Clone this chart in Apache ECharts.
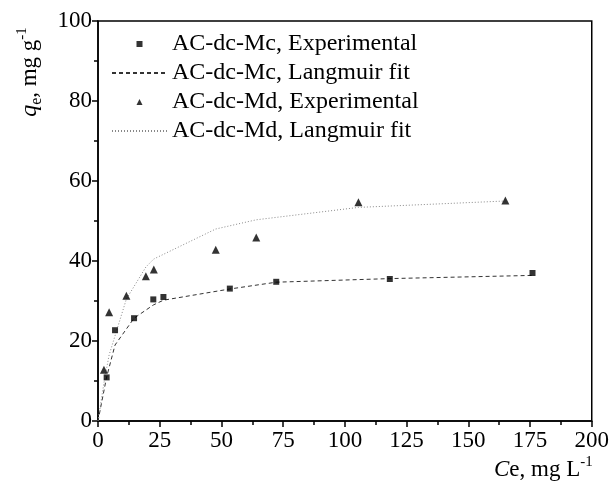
<!DOCTYPE html>
<html>
<head>
<meta charset="utf-8">
<script src="https://cdn.jsdelivr.net/npm/echarts@6/dist/echarts.min.js"></script>
<style>
	html, body { margin: 0; padding: 0; background: #fff; }
	#chart { width: 612px; height: 494px; }
</style>
</head>
<body>
<div id="chart"></div>
<script>
// experimental points
var mcCe = [3.5, 6.9, 14.6, 22.4, 26.5, 53.4, 72.2, 118.2, 176]
var mcQe = [10.9, 22.7, 25.7, 30.4, 31, 33.1, 34.8, 35.5, 37]
var mdCe = [2.4, 4.5, 11.5, 19.4, 22.6, 47.7, 64.1, 105.5, 165]
var mdQe = [12.8, 27.2, 31.3, 36.2, 37.9, 42.8, 45.9, 54.7, 55.1]

// fit lines (polylines as drawn)
var mcFitCe = [0, 3.5, 6.9, 14.6, 22.4, 26.5, 53.4, 72.2, 118.2, 176]
var mcFitQe = [0, 11, 19, 25.7, 29, 30.2, 33, 34.7, 35.6, 36.4]
var mdFitCe = [0, 2.4, 4.5, 11.5, 19.4, 22.6, 47.7, 64.1, 105.5, 165]
var mdFitQe = [0, 9.5, 16.5, 30.5, 38.5, 40.5, 48, 50.3, 53.4, 55]

var names = ['AC-dc-Mc, Experimental', 'AC-dc-Mc, Langmuir fit', 'AC-dc-Md, Experimental', 'AC-dc-Md, Langmuir fit']

function pairs(xs, ys) {
	return xs.map(function (x, i) { return [x, ys[i]] })
}

var font = "'Liberation Serif', 'Times New Roman', serif"

function render() {
	var myChart = echarts.init(document.getElementById('chart'))
	var option = {
		animation: false,
		textStyle: { fontFamily: font, color: '#000' },
		grid: {
			left: 98, right: 16, top: 21, bottom: 73,
			show: true, borderColor: '#000', borderWidth: 1.5
		},
		legend: {
			orient: 'vertical',
			left: 111, top: 31,
			padding: 0,
			itemWidth: 55, itemHeight: 6,
			itemGap: 3,
			textStyle: { fontFamily: font, fontSize: 24, color: '#000', lineHeight: 26 },
			data: [
				{ name: names[0], icon: 'path://M0,0L1,0L1,1L0,1Z' },
				{ name: names[1], itemStyle: { opacity: 0 } },
				{ name: names[2], icon: 'path://M0,1L0.5,0L1,1Z' },
				{ name: names[3], itemStyle: { opacity: 0 } }
			]
		},
		xAxis: {
			type: 'value', min: 0, max: 200, interval: 25,
			axisLine: { show: true, lineStyle: { color: '#000', width: 1.5 } },
			axisTick: { show: true, inside: false, length: 6, lineStyle: { color: '#000', width: 1.5 } },
			minorTick: { show: true, splitNumber: 2, length: 4, lineStyle: { color: '#000', width: 1.5 } },
			axisLabel: { fontFamily: font, fontSize: 23, color: '#000', margin: 8 },
			splitLine: { show: false }
		},
		yAxis: {
			type: 'value', min: 0, max: 100, interval: 20,
			axisLine: { show: true, lineStyle: { color: '#000', width: 1.5 } },
			axisTick: { show: true, inside: false, length: 6, lineStyle: { color: '#000', width: 1.5 } },
			minorTick: { show: true, splitNumber: 2, length: 4, lineStyle: { color: '#000', width: 1.5 } },
			axisLabel: { fontFamily: font, fontSize: 23, color: '#000', margin: 6 },
			splitLine: { show: false }
		},
		graphic: [
			{
				type: 'text', left: 494, top: 455,
				style: {
					text: '{i|C}e, mg L{sup|-1}',
					font: '23px ' + font, fill: '#000',
					rich: {
						i: { fontFamily: font, fontSize: 23, fontStyle: 'italic', lineHeight: 30 },
						sup: { fontFamily: font, fontSize: 15, verticalAlign: 'top', lineHeight: 30 }
					}
				}
			},
			{
				type: 'text', x: 30, y: 72, rotation: Math.PI / 2,
				style: {
					text: '{i|q}{sub|e}, mg g{sup|-1}',
					font: '23px ' + font, fill: '#000',
					align: 'center', verticalAlign: 'middle',
					rich: {
						i: { fontFamily: font, fontSize: 24, fontStyle: 'italic', lineHeight: 30 },
						sub: { fontFamily: font, fontSize: 16, verticalAlign: 'bottom', lineHeight: 30 },
						sup: { fontFamily: font, fontSize: 15, verticalAlign: 'top', lineHeight: 30 }
					}
				}
			}
		],
		series: [
			{
				name: names[0], type: 'scatter', symbol: 'rect', symbolSize: 6,
				itemStyle: { color: '#000' },
				data: pairs(mcCe, mcQe), z: 5
			},
			{
				name: names[1], type: 'line', symbol: 'none', smooth: false,
				lineStyle: { color: '#333', width: 1, type: [4, 3] },
				itemStyle: { color: '#333' },
				data: pairs(mcFitCe, mcFitQe)
			},
			{
				name: names[2], type: 'scatter', symbol: 'triangle', symbolSize: 8,
				itemStyle: { color: '#000' },
				data: pairs(mdCe, mdQe), z: 5
			},
			{
				name: names[3], type: 'line', symbol: 'none', smooth: false,
				lineStyle: { color: '#888', width: 1, type: [1, 2] },
				itemStyle: { color: '#888' },
				data: pairs(mdFitCe, mdFitQe)
			}
		]
	}
	myChart.setOption(option)
}

render()
</script>
</body>
</html>
